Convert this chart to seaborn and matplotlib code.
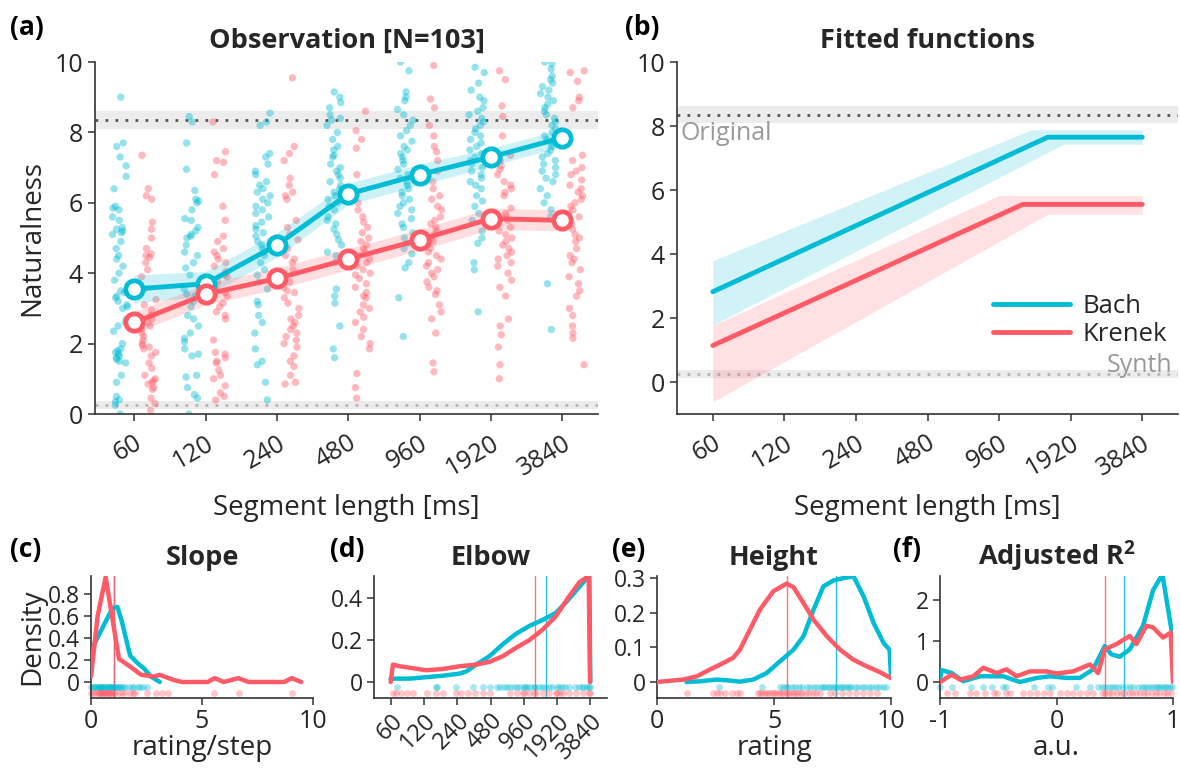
import numpy as np
import pandas as pd
import matplotlib
matplotlib.use("Agg")
import matplotlib.pyplot as plt
import seaborn as sns
from matplotlib.ticker import FormatStrFormatter

# ---------------- data ----------------
segments = ["60", "120", "240", "480", "960", "1920", "3840"]
composers = ["Bach", "Krenek"]

bach_60 = [9.0, 7.7, 7.6, 7.3, 7.05, 6.75, 6.4, 5.9, 5.85, 5.8, 5.6, 5.5, 5.3, 5.25, 5.2, 5.15, 5.1, 4.9, 4.7, 4.5,
           4.4, 4.2, 4.0, 3.8, 3.5, 3.45, 3.35, 3.3, 3.2, 3.1, 3.05, 3.0, 2.7, 2.6, 2.5, 2.35, 2.0, 1.85, 1.8, 1.75,
           1.7, 1.65, 1.6, 1.55, 1.5, 1.45, 1.1, 0.9, 0.5, 0.4, 0.35, 0.25, 0.0]
krenek_60 = [7.35, 6.4, 6.2, 6.1, 5.45, 5.25, 5.0, 4.7, 4.55, 4.5, 4.45, 4.3, 4.1, 3.9, 3.55, 3.25, 3.1, 2.95, 2.8,
             2.7, 2.6, 2.5, 2.4, 2.3, 2.2, 2.1, 2.0, 1.95, 1.9, 1.85, 1.75, 1.65, 1.45, 1.3, 1.1, 1.0, 0.95, 0.9,
             0.85, 0.75, 0.7, 0.45, 0.3, 0.1]
bach_120 = [8.45, 8.3, 7.7, 6.95, 6.35, 6.1, 6.05, 6.0, 5.8, 5.55, 5.5, 5.3, 5.2, 5.1, 5.05, 5.0, 4.8, 4.6, 4.5,
            4.3, 4.15, 3.95, 3.55, 3.4, 3.35, 3.2, 3.05, 2.8, 2.7, 2.5, 2.3, 2.15, 2.05, 1.85, 1.7, 1.65, 1.1,
            1.05, 0.75, 0.55, 0.45, 0.0]
krenek_120 = [8.3, 7.45, 7.2, 7.15, 6.8, 5.9, 5.5, 5.05, 4.9, 4.7, 4.6, 4.5, 4.4, 4.3, 4.2, 4.05, 3.95, 3.9, 3.75,
              3.6, 3.5, 3.45, 3.35, 3.15, 3.05, 2.9, 2.8, 2.7, 2.1, 1.75, 1.7, 1.6, 1.5, 1.45, 1.25, 1.1, 1.0,
              0.8, 0.6, 0.5, 0.4]
bach_240 = [8.55, 8.3, 8.2, 7.4, 7.3, 7.1, 6.9, 6.8, 6.6, 6.5, 6.4, 6.3, 6.2, 6.1, 6.0, 5.9, 5.8, 5.7, 5.6, 5.45,
            5.35, 5.25, 5.15, 5.05, 4.9, 4.8, 4.7, 4.6, 4.5, 4.3, 4.1, 3.95, 3.75, 3.55, 3.2, 3.1, 2.8, 2.6, 2.3,
            1.85, 1.5, 1.4, 0.9, 0.4]
krenek_240 = [9.55, 7.6, 7.4, 7.2, 6.7, 6.5, 6.3, 6.2, 6.1, 5.5, 5.3, 5.1, 4.95, 4.7, 4.5, 4.4, 4.3, 4.1, 4.0,
              3.75, 3.6, 3.5, 3.45, 3.3, 3.15, 3.0, 2.8, 2.7, 2.6, 2.5, 2.4, 2.3, 2.2, 2.1, 2.0, 1.9, 1.65, 1.5,
              1.35, 1.1, 0.9, 0.85]
bach_480 = [9.15, 9.0, 8.85, 8.7, 8.5, 8.4, 8.35, 8.2, 8.0, 7.8, 7.6, 7.5, 7.35, 7.3, 7.1, 7.0, 6.9, 6.8, 6.7,
            6.6, 6.5, 6.4, 6.3, 6.2, 6.1, 6.0, 5.9, 5.8, 5.6, 5.5, 5.4, 5.25, 5.1, 4.95, 4.8, 4.6, 4.5, 4.3,
            3.55, 3.35, 3.15, 2.5, 1.85, 1.6]
krenek_480 = [8.6, 8.05, 7.8, 7.55, 6.8, 6.2, 6.0, 5.8, 5.6, 5.45, 5.3, 5.15, 5.0, 4.9, 4.8, 4.7, 4.6, 4.5, 4.4,
              4.3, 4.2, 4.1, 4.0, 3.95, 3.85, 3.7, 3.6, 3.45, 3.35, 3.3, 3.1, 3.0, 2.9, 2.75, 2.6, 2.4, 2.2,
              2.0, 1.85, 1.15, 0.75, 0.45]
bach_960 = [10.0, 9.75, 9.15, 9.0, 8.9, 8.65, 8.5, 8.35, 8.2, 8.05, 7.9, 7.75, 7.6, 7.5, 7.4, 7.3, 7.2, 7.1, 6.95,
            6.8, 6.7, 6.6, 6.5, 6.4, 6.3, 6.2, 6.1, 6.0, 5.9, 5.8, 5.7, 5.55, 5.4, 5.3, 5.15, 5.0, 4.85, 4.7,
            4.55, 4.3, 4.15, 3.3, 2.2]
krenek_960 = [9.9, 8.95, 8.7, 8.2, 7.9, 7.6, 7.45, 7.2, 6.9, 6.6, 6.4, 6.2, 6.1, 5.9, 5.8, 5.6, 5.5, 5.4, 5.3,
              5.2, 5.1, 5.0, 4.9, 4.8, 4.7, 4.6, 4.5, 4.4, 4.3, 4.2, 4.1, 4.0, 3.9, 3.75, 3.6, 3.5, 3.4, 3.1,
              2.9, 2.7, 2.3, 1.45, 1.2]
bach_1920 = [9.85, 9.7, 9.4, 9.2, 9.0, 8.9, 8.7, 8.6, 8.5, 8.4, 8.3, 8.2, 8.1, 8.0, 7.9, 7.8, 7.7, 7.6, 7.5, 7.4,
             7.3, 7.2, 7.1, 7.0, 6.9, 6.8, 6.7, 6.6, 6.5, 6.4, 6.2, 6.05, 5.9, 5.7, 5.5, 5.2, 5.0, 4.85, 4.3,
             4.1, 2.9]
krenek_1920 = [9.75, 9.5, 8.75, 8.45, 7.9, 7.35, 7.2, 7.05, 6.95, 6.8, 6.6, 6.5, 6.4, 6.3, 6.2, 5.85, 5.7, 5.6,
               5.5, 5.4, 5.3, 5.2, 5.1, 5.0, 4.9, 4.8, 4.7, 4.6, 4.5, 4.4, 4.3, 4.2, 4.0, 3.8, 3.6, 3.35, 2.7,
               2.5, 2.25, 1.9, 1.4, 1.0]
bach_3840 = [10.0, 9.95, 9.8, 9.6, 9.5, 9.4, 9.3, 9.2, 9.1, 9.0, 8.9, 8.8, 8.7, 8.6, 8.5, 8.4, 8.3, 8.2, 8.1, 8.0,
             7.9, 7.8, 7.7, 7.6, 7.5, 7.4, 7.3, 7.2, 7.1, 7.0, 6.9, 6.8, 6.7, 6.6, 6.4, 6.2, 6.0, 5.8, 5.6, 3.7,
             2.4]
krenek_3840 = [9.75, 9.7, 9.45, 9.0, 8.9, 8.7, 7.35, 7.2, 7.0, 6.9, 6.8, 6.65, 6.5, 6.4, 6.3, 6.2, 6.1, 6.0, 5.9,
               5.8, 5.7, 5.6, 5.5, 5.4, 5.25, 5.1, 5.0, 4.9, 4.7, 4.5, 4.4, 4.3, 4.1, 3.9, 3.7, 3.5, 3.35, 3.0,
               2.8, 2.5, 2.3, 2.15, 1.4]

bach_mean = [3.55, 3.7, 4.8, 6.25, 6.8, 7.3, 7.85]
bach_ci = [0.4, 0.35, 0.35, 0.3, 0.3, 0.25, 0.25]
krenek_mean = [2.6, 3.4, 3.85, 4.4, 4.95, 5.55, 5.5]
krenek_ci = [0.3, 0.3, 0.3, 0.3, 0.3, 0.3, 0.3]

original_mean, original_ci = 8.35, 0.26
synth_mean, synth_ci = 0.25, 0.11

# fitted piecewise-linear functions (start value, elbow position, plateau height)
fit_start = [2.82, 1.14]
fit_elbow = [4.68, 4.33]
fit_height = [7.65, 5.55]
bach_band_up_x, bach_band_up_y = [0, 4.45, 6], [3.79, 7.88, 7.88]
bach_band_lo_x, bach_band_lo_y = [0, 4.9, 6], [1.78, 7.43, 7.43]
krenek_band_up_x, krenek_band_up_y = [0, 4.0, 6], [1.77, 5.83, 5.83]
krenek_band_lo_x, krenek_band_lo_y = [0, 4.68, 6], [-0.62, 5.24, 5.24]

# density curves
slope_bach_x = [0, 0.14, 0.54, 0.97, 1.19, 1.4, 1.76, 2.1, 2.4, 2.69, 3.1]
slope_bach_y = [0.1, 0.34, 0.5, 0.67, 0.68, 0.54, 0.24, 0.17, 0.12, 0.05, 0.0]
slope_krenek_x = [0, 0.3, 0.66, 1.04, 1.26, 1.76, 2.26, 2.83, 3.1, 3.7, 4.1, 5.26, 5.57, 5.97, 6.64, 7.1, 8.7,
                  9.04, 9.47]
slope_krenek_y = [0.05, 0.6, 0.95, 0.48, 0.21, 0.14, 0.065, 0.05, 0.065, 0.02, 0.0, 0.0, 0.035, 0.0, 0.035, 0.0,
                  0.0, 0.035, 0.0]
elbow_bach_x = [0, 0.57, 1.57, 2.07, 2.27, 2.57, 2.97, 3.37, 3.77, 4.17, 4.57, 4.97, 5.27, 5.57, 5.87, 5.97, 6.0]
elbow_bach_y = [0.016, 0.016, 0.03, 0.04, 0.05, 0.083, 0.123, 0.18, 0.23, 0.267, 0.296, 0.33, 0.38, 0.435, 0.49,
                0.505, 0.0]
elbow_krenek_x = [0, 0.07, 0.27, 1.07, 1.57, 2.07, 2.57, 2.97, 3.37, 3.77, 4.17, 4.57, 4.97, 5.37, 5.67, 5.95,
                  5.99]
elbow_krenek_y = [0.0, 0.083, 0.075, 0.056, 0.062, 0.075, 0.083, 0.096, 0.123, 0.163, 0.2, 0.25, 0.315, 0.41,
                  0.475, 0.505, 0.0]
height_bach_x = [1.26, 1.83, 2.54, 2.97, 3.54, 4.11, 4.69, 5.26, 5.83, 6.26, 6.69, 7.11, 7.54, 7.97, 8.4, 8.83,
                 9.26, 9.69, 9.94, 10.0]
height_bach_y = [0.0, 0.002, 0.007, 0.005, 0.001, 0.007, 0.026, 0.06, 0.093, 0.132, 0.209, 0.276, 0.293, 0.3,
                 0.305, 0.247, 0.17, 0.112, 0.093, 0.016]
height_krenek_x = [0, 1.11, 1.69, 2.26, 2.69, 3.26, 3.54, 3.97, 4.4, 4.97, 5.54, 5.83, 6.26, 6.69, 7.26, 7.83,
                   8.4, 8.97, 9.54, 9.97]
height_krenek_y = [0.0, 0.007, 0.016, 0.036, 0.05, 0.07, 0.093, 0.151, 0.209, 0.262, 0.284, 0.274, 0.228, 0.18,
                   0.132, 0.093, 0.064, 0.045, 0.028, 0.012]
r2_bach_x = [-1.0, -0.986, -0.9, -0.8, -0.657, -0.457, -0.314, -0.17, -0.057, 0.086, 0.2, 0.314, 0.414, 0.47,
             0.543, 0.629, 0.743, 0.829, 0.909, 1.0]
r2_bach_y = [0.06, 0.29, 0.22, 0.02, 0.14, 0.14, 0.0, 0.1, 0.14, 0.1, 0.1, 0.31, 0.88, 0.68, 0.62, 0.8, 1.38,
             2.25, 2.64, 1.05]
r2_krenek_x = [-1.0, -0.9, -0.829, -0.714, -0.629, -0.514, -0.429, -0.343, -0.229, -0.086, 0.0, 0.143, 0.286,
               0.357, 0.414, 0.514, 0.629, 0.686, 0.771, 0.829, 0.914, 0.98, 1.0]
r2_krenek_y = [0.0, 0.18, 0.06, 0.14, 0.35, 0.22, 0.31, 0.14, 0.26, 0.26, 0.21, 0.26, 0.43, 0.22, 0.8, 0.93,
               1.13, 0.93, 1.38, 1.34, 1.09, 1.21, 0.0]

# individual fitted parameters (rug)
slope_bach = [0.02, 0.08, 0.15, 0.2, 0.25, 0.3, 0.35, 0.4, 0.45, 0.5, 0.55, 0.6, 0.65, 0.7, 0.75, 0.8, 0.85, 0.9,
              0.95, 1.0, 1.05, 1.1, 1.15, 1.2, 1.3, 1.35, 1.45, 1.55, 1.7, 1.85, 1.95, 2.1, 2.2, 2.35, 2.5]
slope_krenek = [0.0, 0.1, 0.2, 0.3, 0.35, 0.4, 0.45, 0.5, 0.55, 0.6, 0.65, 0.7, 0.75, 0.8, 0.85, 0.9, 1.0, 1.1,
                1.25, 1.4, 1.55, 1.75, 1.9, 2.0, 2.5, 2.95, 3.2, 3.45, 5.55, 6.65, 9.05]
elbow_bach = [0.19, 1.35, 1.4, 1.97, 2.47, 2.77, 2.97, 3.2, 3.3, 3.4, 3.5, 3.6, 3.7, 3.8, 3.9, 4.0, 4.05, 4.1, 4.2,
              4.3, 4.35, 4.45, 4.55, 4.65, 4.75, 4.85, 5.0, 5.05, 5.15, 5.25, 5.35, 5.55, 5.65, 5.75, 5.8, 5.9,
              5.95, 6.0]
elbow_krenek = [0.07, 0.15, 0.3, 0.5, 0.67, 1.09, 1.37, 1.57, 1.97, 2.1, 2.32, 2.54, 2.77, 2.97, 3.6, 3.8, 3.97,
                4.0, 4.17, 4.3, 4.37, 4.57, 4.77, 4.97, 5.0, 5.1, 5.17, 5.37, 5.57, 5.77, 5.97, 6.0]
height_bach = [2.65, 4.5, 5.25, 5.4, 5.5, 5.6, 5.75, 5.9, 6.05, 6.2, 6.4, 6.55, 6.7, 6.85, 7.0, 7.1, 7.2, 7.3,
               7.4, 7.5, 7.6, 7.7, 7.8, 7.9, 8.0, 8.1, 8.2, 8.3, 8.45, 8.6, 8.75, 8.9, 9.05, 9.2, 9.35, 9.5,
               9.65, 9.8]
height_krenek = [1.3, 2.4, 2.55, 2.7, 2.9, 3.2, 3.4, 3.55, 4.3, 4.4, 4.5, 4.6, 4.7, 4.8, 4.9, 5.0, 5.1, 5.2, 5.3,
                 5.4, 5.5, 5.6, 5.7, 5.8, 5.9, 6.0, 6.1, 6.2, 6.35, 6.5, 6.65, 6.8, 6.95, 7.4, 7.6, 7.9, 8.2,
                 8.5, 8.8, 9.1, 9.4]
r2_bach = [-1.0, -0.9, -0.73, -0.63, -0.55, -0.46, -0.43, -0.19, -0.07, -0.04, 0.17, 0.29, 0.36, 0.39, 0.42,
           0.45, 0.48, 0.5, 0.53, 0.56, 0.6, 0.63, 0.66, 0.7, 0.73, 0.75, 0.78, 0.8, 0.83, 0.85, 0.87, 0.89,
           0.91, 0.93, 0.95, 0.97, 0.99]
r2_krenek = [-0.94, -0.87, -0.74, -0.69, -0.61, -0.54, -0.51, -0.43, -0.4, -0.29, -0.23, -0.17, -0.11, -0.06,
             0.03, 0.09, 0.14, 0.2, 0.26, 0.31, 0.39, 0.42, 0.45, 0.48, 0.52, 0.55, 0.58, 0.62, 0.65, 0.68,
             0.72, 0.75, 0.78, 0.82, 0.85, 0.88, 0.92, 0.95, 0.98]
r2_median = [0.58, 0.42]

# ---------------- style ----------------
sns.set_theme(style="ticks")
FONT = "Open Sans"
plt.rcParams["font.family"] = [FONT, "DejaVu Sans"]
plt.rcParams["mathtext.fontset"] = "custom"
plt.rcParams["mathtext.rm"] = FONT
plt.rcParams["mathtext.bf"] = FONT + ":bold"
plt.rcParams["axes.unicode_minus"] = False
TXT = "#262626"
SPINE = "#333333"
plt.rcParams.update({
    "axes.edgecolor": SPINE, "axes.linewidth": 1.2,
    "xtick.color": SPINE, "ytick.color": SPINE,
    "xtick.labelcolor": TXT, "ytick.labelcolor": TXT,
    "xtick.major.size": 5, "ytick.major.size": 5,
    "xtick.major.width": 1.1, "ytick.major.width": 1.1,
    "axes.labelcolor": TXT,
})
BACH = "#00bcd4"
KRENEK = "#ff5a66"
PAL = [BACH, KRENEK]
np.random.seed(3)

W, H = 1180, 773
fig = plt.figure(figsize=(W / 100, H / 100), dpi=100)


def add_ax(x0, x1, y_top, y_bot):
    return fig.add_axes([x0 / W, 1 - y_bot / H, (x1 - x0) / W, (y_bot - y_top) / H])


ax_a = add_ax(95, 598, 62, 414)
ax_b = add_ax(677, 1178, 62, 414)
ax_c = add_ax(91, 313, 576, 698)
ax_d = add_ax(374, 607, 576, 698)
ax_e = add_ax(657, 891, 576, 698)
ax_f = add_ax(940, 1173, 576, 698)

TICK_FS = 18
SMALL_TICK_FS = 16.5
LABEL_FS = 20
TITLE_FS = 19.5


def ref_lines(ax):
    ax.axhspan(original_mean - original_ci, original_mean + original_ci, color="#ececec", lw=0, zorder=0)
    ax.axhline(original_mean, color="#555555", ls=(0, (1, 2.6)), lw=2, zorder=0.5)
    ax.axhspan(synth_mean - synth_ci, synth_mean + synth_ci, color="#ececec", lw=0, zorder=0)
    ax.axhline(synth_mean, color="#b5b5b5", ls=(0, (1, 2.6)), lw=2, zorder=0.5)


# ---------------- panel (a) ----------------
groups = {"Bach": [bach_60, bach_120, bach_240, bach_480, bach_960, bach_1920, bach_3840],
          "Krenek": [krenek_60, krenek_120, krenek_240, krenek_480, krenek_960, krenek_1920, krenek_3840]}
rows = []
for comp in composers:
    for seg, vals in zip(segments, groups[comp]):
        for v in vals:
            rows.append((seg, comp, v))
df_obs = pd.DataFrame(rows, columns=["segment", "composer", "rating"])

ref_lines(ax_a)
sns.stripplot(data=df_obs, x="segment", y="rating", hue="composer", order=segments, hue_order=composers,
              palette=PAL, dodge=True, jitter=0.22, size=5.3, alpha=0.42, linewidth=0, legend=False,
              ax=ax_a, zorder=1)
pos = np.arange(len(segments))
for mean, ci, col in [(bach_mean, bach_ci, BACH), (krenek_mean, krenek_ci, KRENEK)]:
    m = np.array(mean); c = np.array(ci)
    ax_a.fill_between(pos, m - c, m + c, color=col, alpha=0.2, lw=0, zorder=2)
    sns.lineplot(x=pos, y=mean, ax=ax_a, color=col, lw=3.5, marker="o", markersize=12.5,
                 markerfacecolor="white", markeredgecolor=col, markeredgewidth=3.4, zorder=3,
                 legend=False)
ax_a.set_xlim(-0.55, 6.5)
ax_a.set_ylim(0, 10)
ax_a.set_yticks([0, 2, 4, 6, 8, 10])
ax_a.set_xticks(pos)
ax_a.set_xticklabels(segments, rotation=30, ha="right", rotation_mode="anchor")
ax_a.tick_params(labelsize=TICK_FS)
ax_a.tick_params(axis="x", pad=7)
ax_a.set_xlabel("Segment length [ms]", fontsize=LABEL_FS, labelpad=9)
ax_a.set_ylabel("Naturalness", fontsize=LABEL_FS, labelpad=6)
ax_a.set_title("Observation [N=103]", fontsize=TITLE_FS, fontweight="bold", pad=10)

# ---------------- panel (b) ----------------
ref_lines(ax_b)
bands = [(bach_band_up_x, bach_band_up_y, bach_band_lo_x, bach_band_lo_y, BACH),
         (krenek_band_up_x, krenek_band_up_y, krenek_band_lo_x, krenek_band_lo_y, KRENEK)]
for ux, uy, lx, ly, col in bands:
    xs = np.unique(np.concatenate([ux, lx]))
    ax_b.fill_between(xs, np.interp(xs, lx, ly), np.interp(xs, ux, uy), color=col, alpha=0.18, lw=0, zorder=1)
for i, (comp, col) in enumerate(zip(composers, PAL)):
    fx = [0, fit_elbow[i], len(segments) - 1]
    fy = [fit_start[i], fit_height[i], fit_height[i]]
    sns.lineplot(x=fx, y=fy, ax=ax_b, color=col, lw=3.5, label=comp, sort=False, zorder=3)
ax_b.set_xlim(-0.5, 6.5)
ax_b.set_ylim(-1, 10)
ax_b.set_yticks([0, 2, 4, 6, 8, 10])
ax_b.set_xticks(pos)
ax_b.set_xticklabels(segments, rotation=30, ha="right", rotation_mode="anchor")
ax_b.tick_params(labelsize=TICK_FS)
ax_b.tick_params(axis="x", pad=7)
ax_b.set_xlabel("Segment length [ms]", fontsize=LABEL_FS, labelpad=9)
ax_b.set_ylabel("")
ax_b.set_title("Fitted functions", fontsize=TITLE_FS, fontweight="bold", pad=10)
ax_b.text(-0.45, 7.78, "Original", color="#999999", fontsize=18, va="center", ha="left")
ax_b.text(6.42, 0.5, "Synth", color="#999999", fontsize=18, va="center", ha="right")
leg = ax_b.legend(frameon=False, fontsize=18.5, handlelength=3.0, loc="upper left",
                  bbox_to_anchor=(0.61, 0.37), borderaxespad=0, labelspacing=0.12, handletextpad=0.5)

# ---------------- bottom density panels ----------------
def density_panel(ax, curves, rugs, meds, top, xlim, yticks, title, xlabel):
    bottom = -16 / 106 * top
    for (cx, cy), col in zip(curves, PAL):
        sns.lineplot(x=cx, y=cy, ax=ax, color=col, lw=3.2, sort=False, legend=False, zorder=3)
    for k, (rv, col) in enumerate(zip(rugs, PAL)):
        ry = [(-5 if k == 0 else -11) / 106 * top] * len(rv)
        sns.scatterplot(x=rv, y=ry, ax=ax, color=col, s=24, alpha=0.35, linewidth=0, legend=False,
                        zorder=2, clip_on=False)
    for med, col in zip(meds, PAL):
        ax.axvline(med, color=col, lw=1, alpha=0.85, zorder=1)
    ax.set_xlim(*xlim)
    ax.set_ylim(bottom, top)
    ax.set_yticks(yticks)
    ax.yaxis.set_major_formatter(FormatStrFormatter("%g"))
    ax.tick_params(labelsize=SMALL_TICK_FS, pad=3)
    ax.tick_params(axis="x", labelsize=TICK_FS)
    ax.set_title(title, fontsize=TITLE_FS, fontweight="bold", pad=8)
    ax.set_xlabel(xlabel, fontsize=LABEL_FS, labelpad=0)
    ax.set_ylabel("")


slope_median = [(fit_height[i] - fit_start[i]) / fit_elbow[i] for i in range(2)]
density_panel(ax_c, [(slope_bach_x, slope_bach_y), (slope_krenek_x, slope_krenek_y)],
              [slope_bach, slope_krenek], slope_median, 0.96, (0, 10), [0, 0.2, 0.4, 0.6, 0.8],
              "Slope", "rating/step")
ax_c.set_xticks([0, 5, 10])
ax_c.set_ylabel("Density", fontsize=LABEL_FS, labelpad=1)

density_panel(ax_d, [(elbow_bach_x, elbow_bach_y), (elbow_krenek_x, elbow_krenek_y)],
              [elbow_bach, elbow_krenek], fit_elbow, 0.505, (-0.5, 6.5), [0, 0.2, 0.4], "Elbow", "")
ax_d.set_xticks(pos)
ax_d.set_xticklabels(segments, rotation=45, ha="right", rotation_mode="anchor")
ax_d.tick_params(axis="x", labelsize=17)

density_panel(ax_e, [(height_bach_x, height_bach_y), (height_krenek_x, height_krenek_y)],
              [height_bach, height_krenek], fit_height, 0.306, (0, 10), [0, 0.1, 0.2, 0.3], "Height", "rating")
ax_e.set_xticks([0, 5, 10])

density_panel(ax_f, [(r2_bach_x, r2_bach_y), (r2_krenek_x, r2_krenek_y)],
              [r2_bach, r2_krenek], r2_median, 2.6, (-1, 1), [0, 1, 2], r"Adjusted R$^\mathbf{2}$", "a.u.")
ax_f.set_xticks([-1, 0, 1])

for ax in [ax_a, ax_b, ax_c, ax_d, ax_e, ax_f]:
    sns.despine(ax=ax)

for lab, x, y in [("(a)", 10, 27), ("(b)", 625, 27), ("(c)", 10, 550), ("(d)", 330, 550),
                  ("(e)", 612, 550), ("(f)", 893, 550)]:
    fig.text(x / W, 1 - y / H, lab, fontsize=19, fontweight="bold", va="center", ha="left", color="black")

fig.savefig("out.png", dpi=100)
